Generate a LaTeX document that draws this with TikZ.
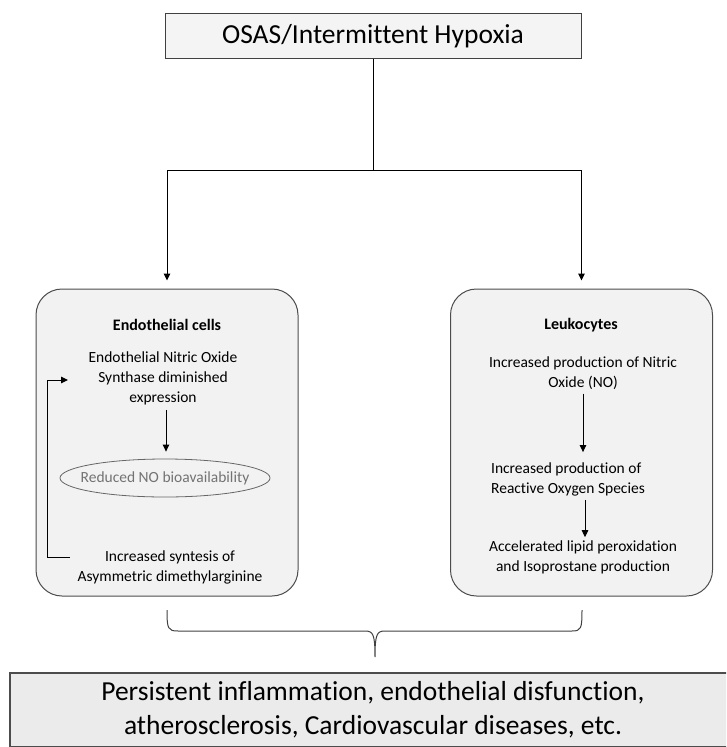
\documentclass[tikz,border=0pt]{standalone}
\usepackage{fontspec}
\setmainfont{Carlito}[Ligatures=NoCommon]
\usepackage{tikz}
\usetikzlibrary{arrows.meta,positioning,shapes.geometric}

\begin{document}
\begin{tikzpicture}[
  x=1pt, y=-1pt,
  font=\fontsize{15.5}{20}\selectfont,
  topbox/.style={draw=black!75, fill=gray!9, line width=0.9pt,
    minimum width=416pt, minimum height=45pt, font=\fontsize{27.5}{30}\selectfont},
  endbox/.style={draw=black!70, fill=gray!16, line width=1.2pt, align=center,
    minimum width=726pt, minimum height=74pt, font=\fontsize{27.5}{34}\selectfont},
  cellbox/.style={draw=black!70, fill=gray!10, line width=1pt, rounded corners=26pt,
    minimum width=262pt, minimum height=307pt},
  txt/.style={align=center, inner sep=0pt},
  ttl/.style={font=\fontsize{16}{20}\selectfont\bfseries, inner sep=0pt},
  oval/.style={ellipse, draw=black!60, line width=0.8pt, text=black!55,
    minimum width=210pt, minimum height=38pt, inner xsep=-14pt, inner ysep=0pt},
  arr/.style={-{Triangle[length=7pt,width=6.5pt]}, line width=1pt}
]
\clip (0,0) rectangle (726,747);
\useasboundingbox (0,0) rectangle (726,747);

\node[topbox] (osas) at (373,36) {OSAS/Intermittent Hypoxia};
\coordinate (split) at (373,170);

\node[cellbox] (endo) at (167,442.5) {};
\node[cellbox] (leuko) at (581.5,442.5) {};

\draw[line width=1pt] (osas.south) -- (split);
\draw[arr, shorten >=8pt] (split) -| (endo.north);
\draw[arr, shorten >=8pt] (split) -| (leuko.north);

% endothelial cells
\node[ttl] (endot) at (167,325) {Endothelial cells};
\node[txt] (enos) at (163,378) {Endothelial Nitric Oxide\\Synthase diminished\\expression};
\node[oval] (nobio) at (165,478) {Reduced NO bioavailability};
\node[txt] (adma) at (170,567) {Increased syntesis of\\Asymmetric dimethylarginine};
\draw[arr, shorten <=5pt, shorten >=7pt] (enos.south -| 166,0) -- (nobio.north -| 166,0);
\coordinate (fbout) at (70,557);
\coordinate (fbin) at (68,380);
\draw[arr] (fbout) -- (47,557) |- (fbin);

% leukocytes
\node[ttl] (leukot) at (581,325) {Leukocytes};
\node[txt] (nop) at (583,373) {Increased production of Nitric\\Oxide (NO)};
\node[txt, align=left] (ros) at (568,479) {Increased production of\\Reactive Oxygen Species};
\node[txt] (lipid) at (583,557) {Accelerated lipid peroxidation\\and Isoprostane production};
\draw[arr, shorten <=4pt, shorten >=10pt] (nop.south -| 583,0) -- (ros.north -| 583,0);
\draw[arr, shorten <=4pt, shorten >=3pt] (ros.south -| 585,0) -- (lipid.north -| 585,0);

% brace
\draw[line width=1pt, black!75]
  (167,610) .. controls (167,629) and (168,631) .. (178,631) -- (365,631)
  .. controls (373,631) and (375,634) .. (375,657)
  .. controls (375,634) and (377,631) .. (385,631) -- (572,631)
  .. controls (581,631) and (582,629) .. (582,610);

\node[endbox] (outcome) at (373,710) {Persistent inflammation, endothelial disfunction,\\atherosclerosis, Cardiovascular diseases, etc.};
\end{tikzpicture}
\end{document}
